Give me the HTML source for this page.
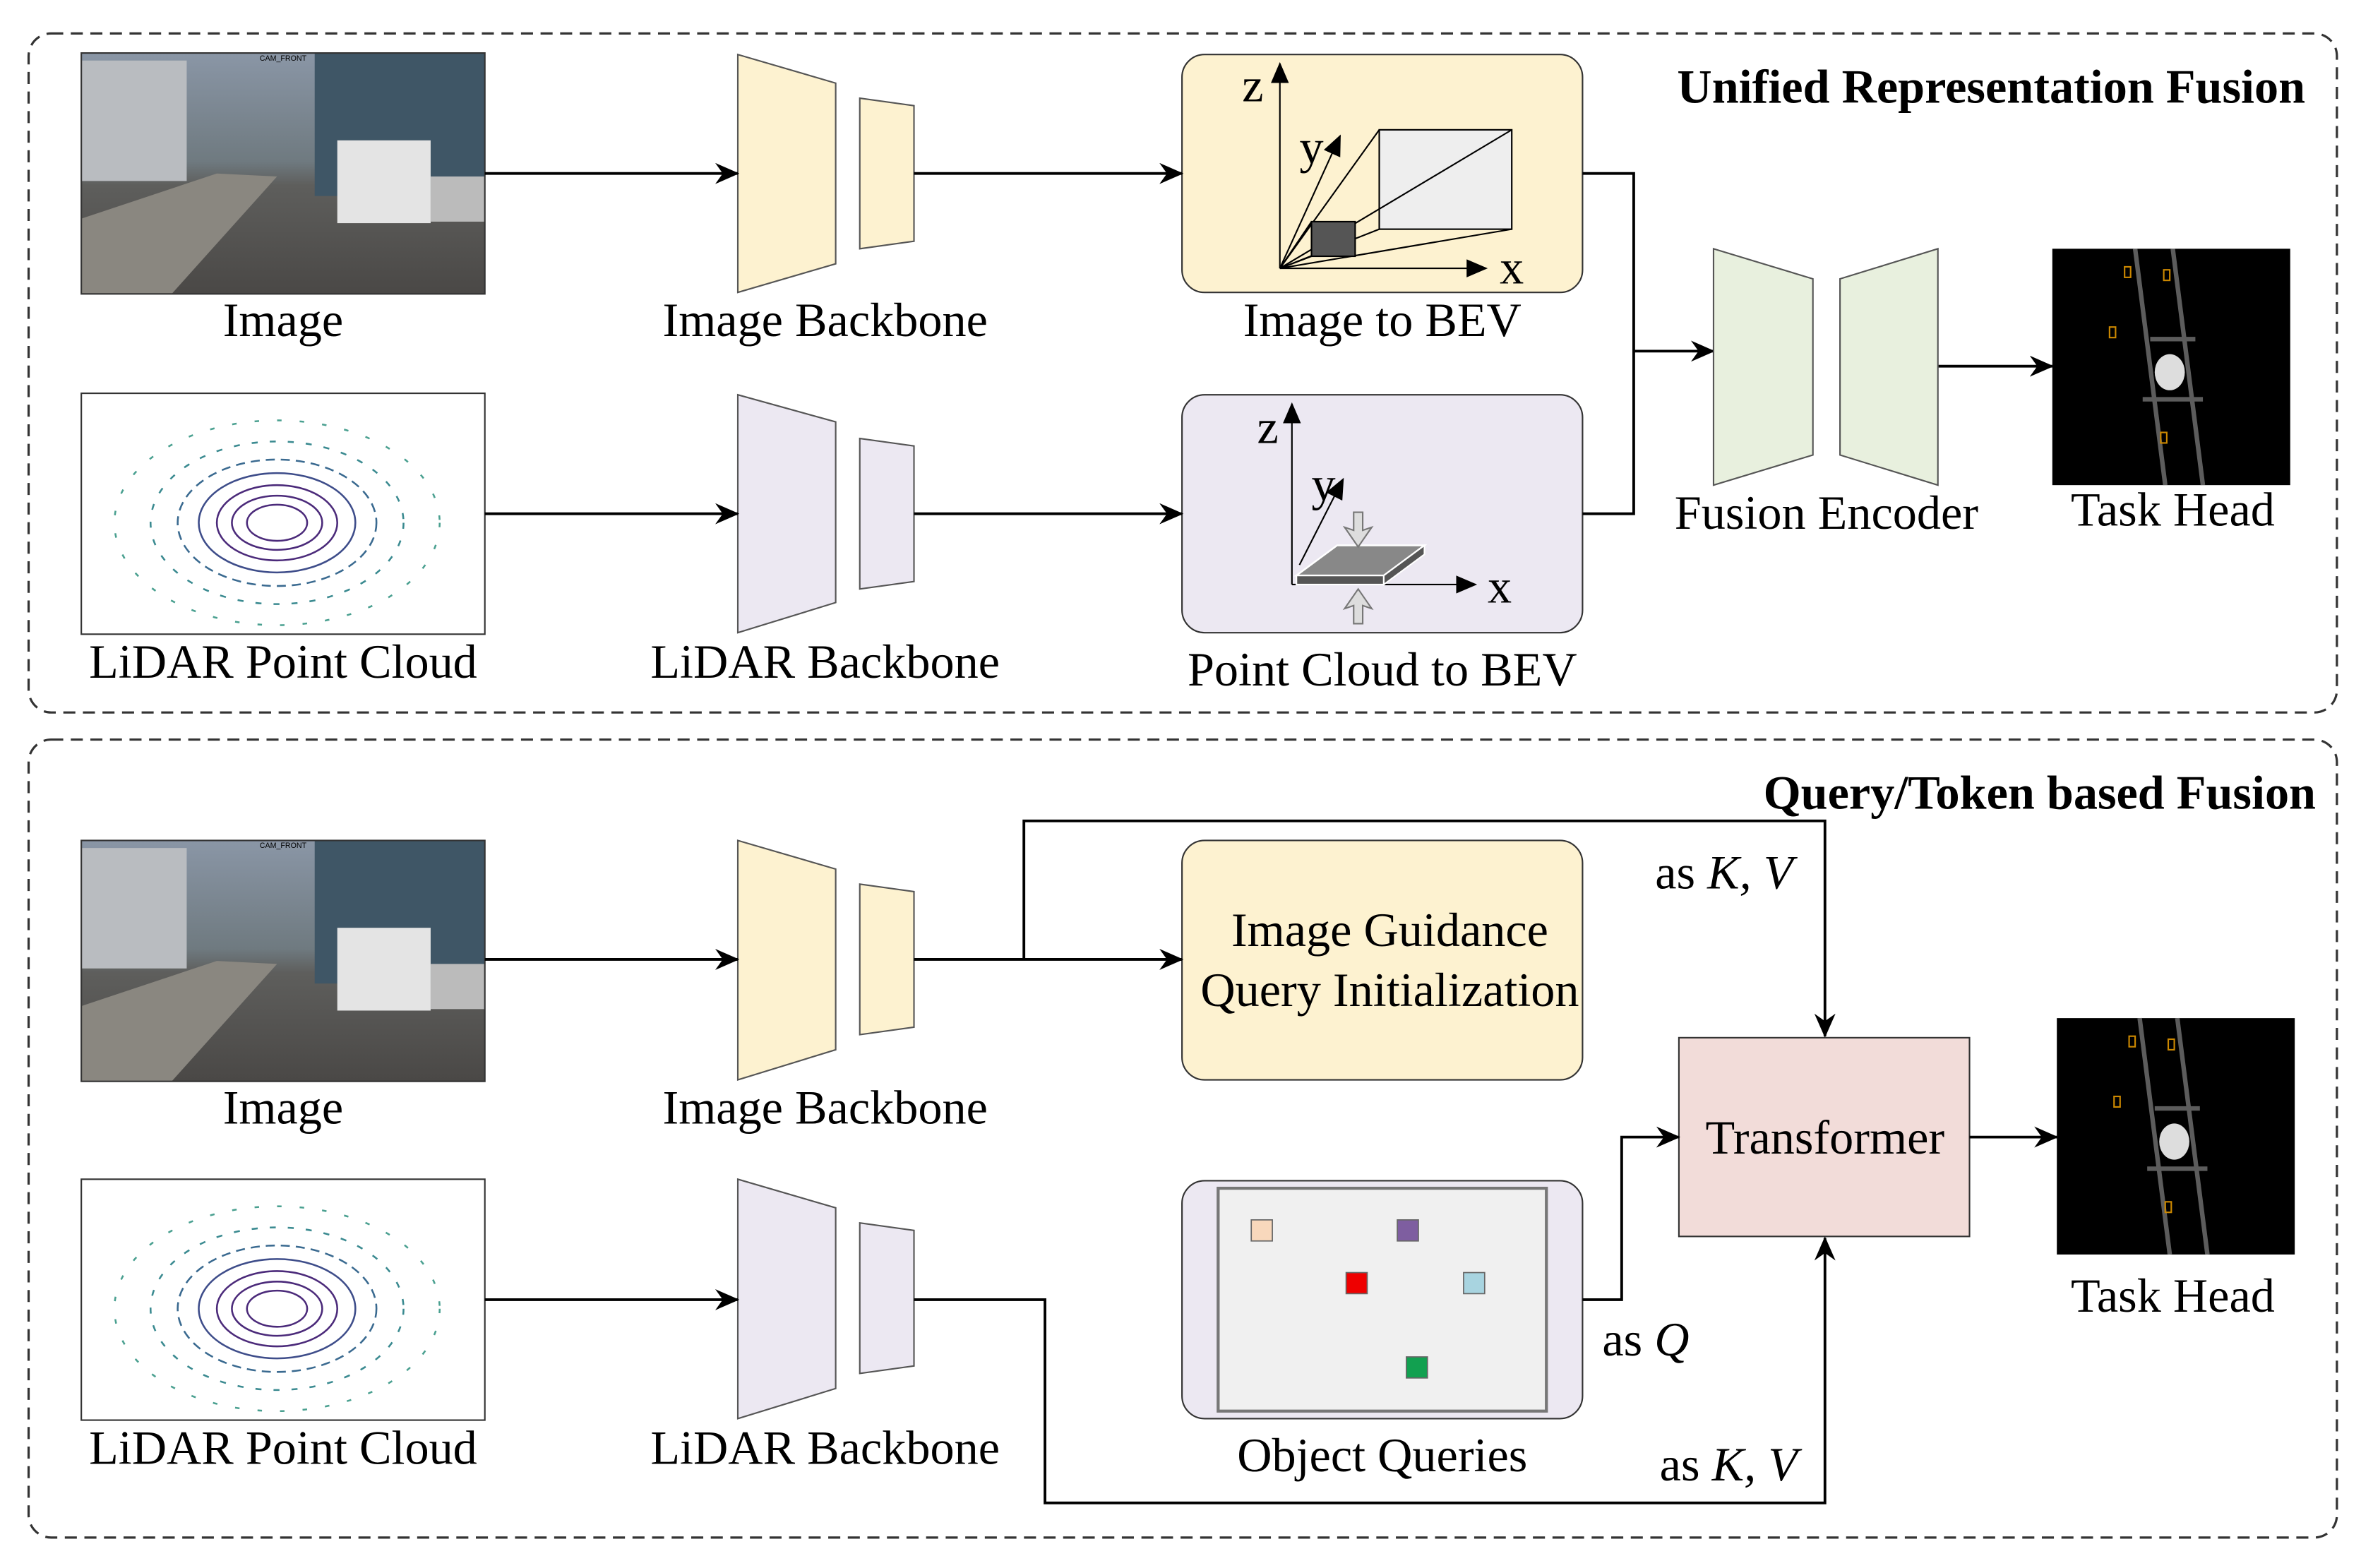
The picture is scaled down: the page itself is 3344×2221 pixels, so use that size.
<!DOCTYPE html>
<html><head><style>html,body{margin:0;padding:0;background:#fff}svg{display:block}</style></head><body>
<svg width="3344" height="2221" viewBox="0 0 1568 1041" xmlns="http://www.w3.org/2000/svg" font-family="Liberation Serif, serif">
<defs>
<marker id="a" markerWidth="16" markerHeight="14" refX="15" refY="7" orient="auto" markerUnits="userSpaceOnUse" viewBox="0 0 16 14"><path d="M0,0 L16,7 L0,14 L5,7z" fill="#000"/></marker>
<marker id="b" markerWidth="14" markerHeight="12" refX="13" refY="6" orient="auto" markerUnits="userSpaceOnUse" viewBox="0 0 14 12"><path d="M0,0 L14,6 L0,12z" fill="#000"/></marker>
<linearGradient id="cam" x1="0" y1="0" x2="0" y2="1"><stop offset="0" stop-color="#8a96a6"/><stop offset="0.45" stop-color="#6f7a80"/><stop offset="0.55" stop-color="#5e5e5c"/><stop offset="1" stop-color="#4a4846"/></linearGradient>
<g id="camimg">
<rect width="268" height="160" fill="url(#cam)"/>
<rect x="0" y="5" width="70" height="80" fill="#b9bcc0"/>
<rect x="155" y="0" width="113" height="95" fill="#3f5666"/>
<path d="M0,110 L90,80 L130,82 L60,160 L0,160z" fill="#8a8780"/>
<rect x="170" y="58" width="62" height="55" fill="#e4e4e4"/>
<rect x="232" y="82" width="36" height="30" fill="#bbb"/>
<rect width="268" height="160" fill="none" stroke="#333" stroke-width="1"/>
<text x="134" y="5" font-size="5" text-anchor="middle" font-family="Liberation Sans">CAM_FRONT</text>
</g>
<g id="lidar">
<rect width="268" height="160" fill="#fff" stroke="#333" stroke-width="1"/>
<g fill="none" stroke="#4b2a7a" stroke-width="1.2">
<ellipse cx="130" cy="86" rx="20" ry="12"/><ellipse cx="130" cy="86" rx="30" ry="18"/><ellipse cx="130" cy="86" rx="40" ry="25"/><ellipse cx="130" cy="86" rx="52" ry="33" stroke="#3e4d8a"/><ellipse cx="130" cy="86" rx="66" ry="42" stroke="#3a6a90" stroke-dasharray="6 4"/><ellipse cx="130" cy="86" rx="84" ry="54" stroke="#3a8a90" stroke-dasharray="4 8"/><ellipse cx="130" cy="86" rx="108" ry="68" stroke="#4aa090" stroke-dasharray="3 12"/>
</g>
<ellipse cx="130" cy="86" rx="14" ry="8" fill="#fff"/>
</g>
<g id="task">
<rect width="158" height="157" fill="#000"/>
<path d="M55,0 L75,157 M80,0 L100,157 M65,60 L95,60 M60,100 L100,100" stroke="#999" stroke-width="3" opacity="0.6"/>
<ellipse cx="78" cy="82" rx="10" ry="12" fill="#ddd"/>
<rect x="48" y="12" width="4" height="7" fill="none" stroke="#c80"/><rect x="74" y="14" width="4" height="7" fill="none" stroke="#c80"/><rect x="38" y="52" width="4" height="7" fill="none" stroke="#c80"/><rect x="72" y="122" width="4" height="7" fill="none" stroke="#c80"/>
</g>
</defs>
<rect width="1568" height="1041" fill="#fff"/>
<rect x="19" y="22" width="1533" height="451" rx="15" fill="none" stroke="#333" stroke-width="1.5" stroke-dasharray="8 5"/>
<rect x="19" y="491" width="1533" height="530" rx="15" fill="none" stroke="#333" stroke-width="1.5" stroke-dasharray="8 5"/>
<g font-size="32" text-anchor="middle" fill="#000">
<use href="#camimg" x="54" y="35"/>
<text x="188" y="223">Image</text>
<path d="M490,36 L555,55 L555,175 L490,194z M571,65 L607,70 L607,160 L571,165z" fill="#fdf2d0" stroke="#555"/>
<text x="548" y="223">Image Backbone</text>
<rect x="785" y="36" width="266" height="158" rx="15" fill="#fdf2d0" stroke="#333"/>
<g stroke="#000" stroke-width="1" fill="none">
<rect x="916" y="86" width="88" height="66" fill="#eee"/>
<path d="M850,178 L916,86 M850,178 L1004,86 M850,178 L916,152 M850,178 L1004,152 M850,178 L871,147 M850,178 L871,170"/>
<rect x="871" y="147" width="29" height="23" fill="#555"/>
<path d="M850,178 L850,42" marker-end="url(#b)"/>
<path d="M850,178 L987,178" marker-end="url(#b)"/>
<path d="M850,178 L890,90" marker-end="url(#b)"/>
</g>
<text x="832" y="67">z</text><text x="1004" y="188">x</text><text x="871" y="108">y</text>
<text x="918" y="223">Image to BEV</text>
<use href="#lidar" x="54" y="261"/>
<text x="188" y="450">LiDAR Point Cloud</text>
<path d="M490,262 L555,280 L555,400 L490,420z M571,291 L607,296 L607,386 L571,391z" fill="#ece8f2" stroke="#555"/>
<text x="548" y="450">LiDAR Backbone</text>
<rect x="785" y="262" width="266" height="158" rx="15" fill="#ece8f2" stroke="#333"/>
<g stroke="#000" stroke-width="1" fill="none">
<path d="M858,388 L858,268" marker-end="url(#b)"/>
<path d="M858,388 L980,388" marker-end="url(#b)"/>
<path d="M863,375 L892,318" marker-end="url(#b)"/>
</g>
<path d="M861,382 L888,362 L946,362 L919,382z" fill="#888" stroke="#fff" stroke-width="1.2"/>
<path d="M861,382 L919,382 L919,388 L861,388z" fill="#555" stroke="#fff"/>
<path d="M919,382 L946,362 L946,368 L919,388z" fill="#555" stroke="#fff"/>
<path d="M899,340 L905,340 L905,352 L911,350 L902,363 L893,350 L899,352z" fill="#ddd" stroke="#777"/>
<path d="M899,414 L905,414 L905,402 L911,404 L902,391 L893,404 L899,402z" fill="#ddd" stroke="#777"/>
<text x="842" y="294">z</text><text x="996" y="400">x</text><text x="879" y="332">y</text>
<text x="918" y="455">Point Cloud to BEV</text>
<g stroke="#000" stroke-width="1.8" fill="none">
<path d="M322,115 L490,115" marker-end="url(#a)"/>
<path d="M607,115 L785,115" marker-end="url(#a)"/>
<path d="M322,341 L490,341" marker-end="url(#a)"/>
<path d="M607,341 L785,341" marker-end="url(#a)"/>
<path d="M1051,115 L1085,115 L1085,341 L1051,341"/>
<path d="M1085,233 L1138,233" marker-end="url(#a)"/>
<path d="M1287,243 L1363,243" marker-end="url(#a)"/>
</g>
<path d="M1138,165 L1204,185 L1204,302 L1138,322z M1222,185 L1287,165 L1287,322 L1222,302z" fill="#e8f0de" stroke="#555"/>
<text x="1213" y="351">Fusion Encoder</text>
<use href="#task" x="1363" y="165"/>
<text x="1443" y="349">Task Head</text>
<text x="1531" y="68" text-anchor="end" font-weight="bold">Unified Representation Fusion</text>
<use href="#camimg" x="54" y="558"/>
<text x="188" y="746">Image</text>
<path d="M490,558 L555,577 L555,697 L490,717z M571,587 L607,592 L607,682 L571,687z" fill="#fdf2d0" stroke="#555"/>
<text x="548" y="746">Image Backbone</text>
<rect x="785" y="558" width="266" height="159" rx="15" fill="#fdf2d0" stroke="#333"/>
<text x="923" y="628">Image Guidance</text>
<text x="923" y="668">Query Initialization</text>
<use href="#lidar" x="54" y="783"/>
<text x="188" y="972">LiDAR Point Cloud</text>
<path d="M490,783 L555,802 L555,922 L490,942z M571,812 L607,817 L607,907 L571,912z" fill="#ece8f2" stroke="#555"/>
<text x="548" y="972">LiDAR Backbone</text>
<rect x="785" y="784" width="266" height="158" rx="15" fill="#ece8f2" stroke="#333"/>
<rect x="809" y="789" width="218" height="148" fill="#f0f0f0" stroke="#777" stroke-width="2"/>
<rect x="831" y="810" width="14" height="14" fill="#f8d8bc" stroke="#666" stroke-width="0.8"/>
<rect x="928" y="810" width="14" height="14" fill="#7e5ea0" stroke="#666" stroke-width="0.8"/>
<rect x="894" y="845" width="14" height="14" fill="#e00" stroke="#666" stroke-width="0.8"/>
<rect x="972" y="845" width="14" height="14" fill="#a8d4e0" stroke="#666" stroke-width="0.8"/>
<rect x="934" y="901" width="14" height="14" fill="#12a050" stroke="#666" stroke-width="0.8"/>
<text x="918" y="977">Object Queries</text>
<rect x="1115" y="689" width="193" height="132" fill="#f2dcd9" stroke="#333"/>
<text x="1212" y="766">Transformer</text>
<use href="#task" x="1366" y="676"/>
<text x="1443" y="871">Task Head</text>
<g stroke="#000" stroke-width="1.8" fill="none">
<path d="M322,637 L490,637" marker-end="url(#a)"/>
<path d="M607,637 L785,637" marker-end="url(#a)"/>
<path d="M680,637 L680,545 L1212,545 L1212,688" marker-end="url(#a)"/>
<path d="M322,863 L490,863" marker-end="url(#a)"/>
<path d="M607,863 L694,863 L694,998 L1212,998 L1212,822" marker-end="url(#a)"/>
<path d="M1051,863 L1077,863 L1077,755 L1115,755" marker-end="url(#a)"/>
<path d="M1308,755 L1366,755" marker-end="url(#a)"/>
</g>
<text x="1145" y="590">as <tspan font-style="italic">K, V</tspan></text>
<text x="1093" y="900">as <tspan font-style="italic">Q</tspan></text>
<text x="1148" y="983">as <tspan font-style="italic">K, V</tspan></text>
<text x="1538" y="537" text-anchor="end" font-weight="bold">Query/Token based Fusion</text>
</g>
</svg>
</body></html>
